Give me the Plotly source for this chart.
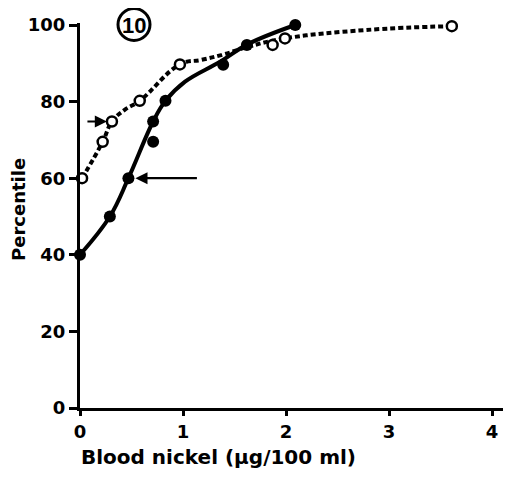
import plotly.graph_objects as go

# Filled circles (solid curve)
filled_x = [0.0, 0.29, 0.47, 0.71, 0.71, 0.83, 1.39, 1.62, 2.09]
filled_y = [40, 50, 60, 69.5, 74.8, 80.2, 89.6, 94.8, 100]

# Open circles (dotted curve)
open_x = [0.02, 0.22, 0.31, 0.58, 0.97, 1.87, 1.99, 3.61]
open_y = [60, 69.5, 74.8, 80.2, 89.7, 94.8, 96.5, 99.7]

# hand-drawn curves, knots
solid_curve_x = [0.0, 0.29, 0.47, 0.71, 0.83, 1.02, 1.36, 1.63, 2.09]
solid_curve_y = [40, 50, 60, 74.8, 80.2, 85.2, 90.4, 95.0, 100]
dotted_curve_x = [0.02, 0.22, 0.31, 0.43, 0.58, 0.97, 1.18, 1.38, 1.63, 1.99, 2.78, 3.61]
dotted_curve_y = [60, 69.5, 74.8, 77.8, 80.2, 89.7, 90.9, 92.2, 94.3, 96.5, 98.7, 99.7]

x_ticks = [0, 1, 2, 3, 4]
y_ticks = [0, 20, 40, 60, 80, 100]
panel_label = "10"
x_title = "Blood nickel (µg/100 ml)"
y_title = "Percentile"

FONT = "DejaVu Sans"

# page body adds an 8px offset; geometry below is in window pixels
OFF = 8
W, H = 511 - OFF, 480 - OFF
PL, PR, PT, PB = 80, 511, 23, 408          # plot area in window pixels
L, T = PL - OFF, PT - OFF
R, B = (W + OFF) - PR, (H + OFF) - PB
PW, PH = PR - PL, PB - PT


def px(xp):
    return (xp - PL) / PW


def py(yp):
    return (PB - yp) / PH


fig = go.Figure()

fig.add_trace(go.Scatter(x=dotted_curve_x, y=dotted_curve_y, mode="lines",
                         line=dict(color="black", width=4, dash="5px,3px", shape="spline", smoothing=1.2),
                         hoverinfo="skip", cliponaxis=False))
fig.add_trace(go.Scatter(x=solid_curve_x, y=solid_curve_y, mode="lines",
                         line=dict(color="black", width=4, shape="spline", smoothing=1.1),
                         hoverinfo="skip", cliponaxis=False))
fig.add_trace(go.Scatter(x=filled_x, y=filled_y, mode="markers",
                         marker=dict(color="black", size=12, symbol="circle"),
                         cliponaxis=False))
fig.add_trace(go.Scatter(x=open_x, y=open_y, mode="markers",
                         marker=dict(color="white", size=10, symbol="circle",
                                     line=dict(color="black", width=2.5)),
                         cliponaxis=False))

# arrows pointing at points
fig.add_annotation(x=open_x[2], y=open_y[2], text="", showarrow=True, ax=-26, ay=0,
                   arrowhead=2, arrowsize=1.1, arrowwidth=2.2, arrowcolor="black", standoff=5)
fig.add_annotation(x=filled_x[2], y=filled_y[2], text="", showarrow=True, ax=70, ay=0,
                   arrowhead=2, arrowsize=1.1, arrowwidth=2.2, arrowcolor="black", standoff=7)

# circled panel label
cxp, cyp, rr = 134, 24.5, 16
fig.add_shape(type="circle", xref="paper", yref="paper",
              x0=px(cxp - rr), x1=px(cxp + rr), y0=py(cyp + rr), y1=py(cyp - rr),
              line=dict(color="black", width=3))
fig.add_annotation(xref="paper", yref="paper", x=px(cxp), y=py(cyp + 0.5),
                   xanchor="center", yanchor="middle",
                   text=panel_label, showarrow=False,
                   font=dict(family="Liberation Sans", size=22, color="black", weight="bold"))

# axis titles
fig.add_annotation(xref="paper", yref="paper", x=px(79), y=py(457),
                   xanchor="left", yanchor="middle", text=x_title, showarrow=False,
                   font=dict(family=FONT, size=20, color="black", weight="bold"))
fig.add_annotation(xref="paper", yref="paper", x=px(18), y=py(210),
                   xanchor="center", yanchor="middle", text=y_title, showarrow=False,
                   textangle=-90,
                   font=dict(family=FONT, size=18, color="black", weight="bold"))

fig.update_layout(
    width=W, height=H,
    margin=dict(l=L, r=R, t=T, b=B, pad=0),
    paper_bgcolor="white", plot_bgcolor="white",
    showlegend=False,
    font=dict(family=FONT, size=18, color="black"),
)
fig.update_xaxes(range=[0, PW / 103.0], tickvals=x_ticks, ticktext=[str(v) for v in x_ticks],
                 automargin=False,
                 showgrid=False, zeroline=False, showline=True, linecolor="black", linewidth=3,
                 ticks="outside", ticklen=5, tickwidth=2.5, tickcolor="black",
                 tickfont=dict(family=FONT, size=18, weight="bold"))
fig.update_yaxes(range=[0, 100 + 2 / 3.83], tickvals=y_ticks, ticktext=[str(v) for v in y_ticks],
                 automargin=False,
                 showgrid=False, zeroline=False, showline=True, linecolor="black", linewidth=3,
                 ticks="outside", ticklen=8, tickwidth=2.5, tickcolor="black",
                 tickfont=dict(family=FONT, size=18, weight="bold"))

fig.write_html("out.html")
